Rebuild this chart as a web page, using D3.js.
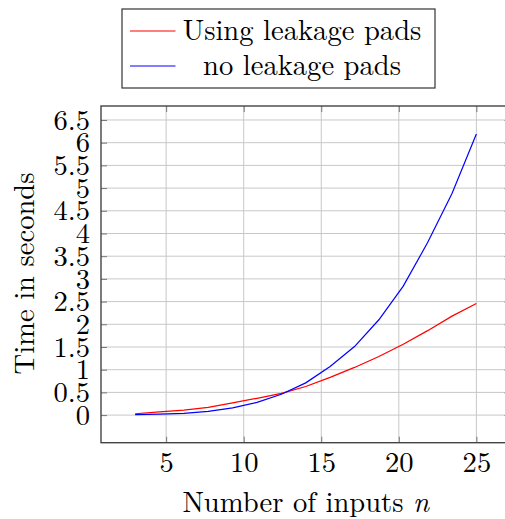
<!DOCTYPE html>
<html><head><meta charset="utf-8">
<script src="https://cdn.jsdelivr.net/npm/d3@7"></script>
<style>body{margin:0;background:#fff}svg{display:block}</style>
</head><body><svg id="c" width="505" height="519"></svg>
<script>
const nValues = [3, 4.571, 6.143, 7.714, 9.286, 10.857, 12.429, 14, 15.571, 17.143, 18.714, 20.286, 21.857, 23.429, 25];
const withPads = [0.03, 0.07, 0.11, 0.17, 0.27, 0.37, 0.48, 0.63, 0.83, 1.05, 1.29, 1.56, 1.86, 2.18, 2.46];
const noPads = [0.01, 0.02, 0.04, 0.08, 0.16, 0.28, 0.46, 0.71, 1.07, 1.51, 2.10, 2.84, 3.80, 4.88, 6.19];
const seriesNames = ["Using leakage pads", "no leakage pads"];
const xTicks = [5, 10, 15, 20, 25];
const yTicks = [0, 0.5, 1, 1.5, 2, 2.5, 3, 3.5, 4, 4.5, 5, 5.5, 6, 6.5];
const xTitle = "Number of inputs ";
const yTitle = "Time in seconds";

const FONT = "'Latin Modern Roman', 'Liberation Serif', serif";
const FS = "28.6px";
const svg = d3.select("#c");
const L = 101, R = 510.5, T = 106, B = 442.7;
const enl = (ext) => { const d = (ext[1] - ext[0]) * 0.1; return [ext[0] - d, ext[1] + d]; };
const x = d3.scaleLinear().domain(enl(d3.extent(nValues))).range([L, R]);
const allY = withPads.concat(noPads);
const y = d3.scaleLinear().domain(enl(d3.extent(allY))).range([B, T]);

// grid
const g = svg.append("g");
g.selectAll("line.gx").data(xTicks).join("line")
  .attr("x1", d => x(d)).attr("x2", d => x(d)).attr("y1", T).attr("y2", B)
  .attr("stroke", "#c8c8c8").attr("stroke-width", 1);
g.selectAll("line.gy").data(yTicks).join("line")
  .attr("y1", d => y(d)).attr("y2", d => y(d)).attr("x1", L).attr("x2", R)
  .attr("stroke", "#c8c8c8").attr("stroke-width", 1);

const fmt = d => String(d);
const xAxisB = svg.append("g").attr("transform", `translate(0,${B})`)
  .call(d3.axisBottom(x).tickValues(xTicks).tickSize(-6).tickFormat(fmt).tickPadding(16));
const xAxisT = svg.append("g").attr("transform", `translate(0,${T})`)
  .call(d3.axisTop(x).tickValues(xTicks).tickSize(-6).tickFormat(""));
const yAxisL = svg.append("g").attr("transform", `translate(${L},0)`)
  .call(d3.axisLeft(y).tickValues(yTicks).tickSize(-6).tickFormat(fmt).tickPadding(11));
const yAxisR = svg.append("g").attr("transform", `translate(${R},0)`)
  .call(d3.axisRight(y).tickValues(yTicks).tickSize(-6).tickFormat(""));
[xAxisB, xAxisT, yAxisL, yAxisR].forEach(a => {
  a.attr("font-family", null).attr("font-size", null);
  a.select(".domain").remove();
  a.selectAll(".tick line").attr("stroke", "#777").attr("stroke-width", 1);
  a.selectAll("text").style("font-family", FONT).style("font-size", FS).attr("fill", "#000");
});
xAxisB.selectAll("text").attr("y", 29.5).attr("dy", 0);
yAxisL.selectAll("text").attr("dy", "0.32em");

svg.append("rect").attr("x", L).attr("y", T).attr("width", R - L).attr("height", B - T)
  .attr("fill", "none").attr("stroke", "#444").attr("stroke-width", 1.4);

const line = d3.line().x((d, i) => x(nValues[i])).y(d => y(d));
const colors = ["#ff0000", "#0000ff"];
[withPads, noPads].forEach((s, k) => {
  svg.append("path").datum(s).attr("d", line).attr("fill", "none")
    .attr("stroke", colors[k]).attr("stroke-width", 1.2);
});

const xt = svg.append("text").attr("x", (L + R) / 2).attr("y", 512).attr("text-anchor", "middle")
  .style("font-family", FONT).style("font-size", FS);
xt.append("tspan").text(xTitle);
xt.append("tspan").style("font-style", "italic").text("n");
svg.append("text").attr("transform", "translate(33.5,273.5) rotate(-90)").attr("text-anchor", "middle")
  .style("font-family", FONT).style("font-size", FS).text(yTitle);

const lg = svg.append("g");
lg.append("rect").attr("x", 122).attr("y", 9).attr("width", 313).attr("height", 79)
  .attr("fill", "#fff").attr("stroke", "#333").attr("stroke-width", 1.2);
const legY = [31, 66];
seriesNames.forEach((name, k) => {
  lg.append("line").attr("x1", 130).attr("x2", 175.5).attr("y1", legY[k]).attr("y2", legY[k])
    .attr("stroke", colors[k]).attr("stroke-width", 1.2);
  lg.append("text").attr("x", 302).attr("y", legY[k] + 8.5).attr("text-anchor", "middle")
    .style("font-family", FONT).style("font-size", FS).text(name);
});
</script></body></html>
